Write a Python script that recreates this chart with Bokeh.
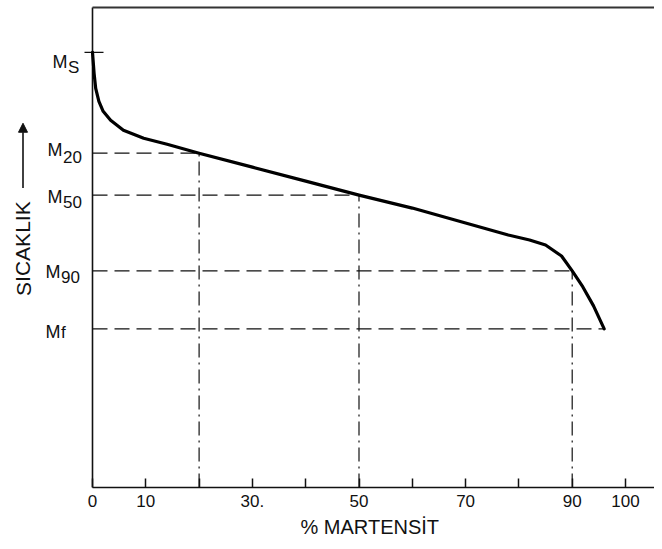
from bokeh.plotting import figure
from bokeh.models import (FixedTicker, Range1d, Arrow, NormalHead, LinearAxis,
                          Title, ColumnDataSource)
from bokeh.core.properties import value
from bokeh.embed import file_html
from bokeh.resources import INLINE

# ---------------- data ----------------
# % martensite formed vs temperature (arbitrary temperature units)
martensite_pct = [0, 0.3, 0.6, 1.2, 2, 3.4, 5.8, 9.6, 14, 20, 30, 40, 50,
                  60, 70, 78, 82, 85, 88, 90, 92, 94, 96]
temperature = [436, 415, 400, 387, 377, 368, 358, 350, 344, 335, 321, 307, 293,
               280, 265, 253, 248, 243, 232, 217, 201, 182, 159]

Ms = 436            # martensite start
level_pct = [20, 50, 90]
level_temp = [335, 293, 217]
Mf_pct = 96         # end of transformation
Mf = 159
T_top = 481         # top of the diagram

x_ticks = [0, 10, 20, 30, 40, 50, 60, 70, 80, 90, 100]
x_tick_labels = {0: "0", 10: "10", 20: "", 30: "30.", 40: "", 50: "50",
                 60: "", 70: "70", 80: "", 90: "90", 100: "100"}

y_label_main = ["M", "M", "M", "M", "M"]
y_label_sub = ["S", "20", "50", "90", "f"]
y_label_temp = [Ms] + level_temp + [Mf]

FONT = "Liberation Sans"
INK = "#111111"

# ---------------- figure ----------------
PX_PER_PCT = 5.33
AX_LEFT_PX = 92       # where 0 % sits, in pixels from the left
W, H = 654, 541
FRAME_H = 488


def xd(px):
    """pixel from the left -> % martensite"""
    return (px - AX_LEFT_PX) / PX_PER_PCT


def yd(py):
    """pixel from the top -> temperature units"""
    return FRAME_H - py


x_end = xd(W)
p = figure(width=W, height=H, output_backend="svg", toolbar_location=None,
           x_range=Range1d(xd(0), x_end), y_range=Range1d(0, FRAME_H),
           x_axis_location=None, y_axis_location=None,
           min_border_left=0, min_border_right=0, min_border_top=0,
           min_border_bottom=H - FRAME_H)
p.outline_line_color = None
p.grid.visible = False
p.background_fill_color = "white"
p.border_fill_color = "white"

# bottom axis (starts at 0 %)
xa = LinearAxis(ticker=FixedTicker(ticks=x_ticks),
                major_label_overrides=dict(x_tick_labels),
                bounds=(0, x_end))
xa.axis_line_width = 1.6
xa.axis_line_color = INK
xa.major_tick_in = 9
xa.major_tick_out = 0
xa.major_tick_line_width = 1.5
xa.major_tick_line_color = INK
xa.minor_tick_line_color = None
xa.major_label_text_font = FONT
xa.major_label_text_font_size = "17px"
xa.major_label_text_color = INK
xa.major_label_standoff = 7
p.add_layout(xa, "below")

p.add_layout(Title(text="% MARTENSİT", align="left", offset=300,
                   text_font=FONT, text_font_size="20px",
                   text_font_style="normal", text_color=INK, standoff=8),
             "below")

# left axis line, Ms tick and top border
p.segment(x0=[0], y0=[0], x1=[0], y1=[T_top], line_color=INK, line_width=1.6)
p.segment(x0=[xd(84)], y0=[Ms], x1=[xd(103)], y1=[Ms], line_color=INK,
          line_width=1.3)
p.segment(x0=[0], y0=[T_top], x1=[x_end], y1=[T_top], line_color="#333333",
          line_width=2)

# dashed guide lines
h_x1 = level_pct + [Mf_pct]
h_y = level_temp + [Mf]
p.segment(x0=[0] * len(h_x1), y0=h_y, x1=h_x1, y1=h_y,
          line_color=INK, line_width=1.2, line_dash="15 7")
p.segment(x0=level_pct, y0=[0] * len(level_pct), x1=level_pct, y1=level_temp,
          line_color=INK, line_width=1.2, line_dash="14 5 2 5")

# transformation curve
p.line(martensite_pct, temperature, line_color="black", line_width=3.2,
       line_join="round", line_cap="round")

# M labels with subscripts
main_right = [67, 62, 62, 60, 60]
main_dy = [-10, 3, -2, -1, -3]
sub_dy = [-15, -4, -7, -6, -4]
lab = ColumnDataSource(dict(
    xm=[xd(r) for r in main_right],
    ym=[t + d for t, d in zip(y_label_temp, main_dy)],
    xs=[xd(r + 0.5) for r in main_right],
    ys=[t + d for t, d in zip(y_label_temp, sub_dy)],
    main=y_label_main, sub=y_label_sub))
p.text(x="xm", y="ym", text="main", source=lab, text_align="right",
       text_baseline="alphabetic", text_font=value(FONT),
       text_font_size=value("18px"), text_color=INK)
p.text(x="xs", y="ys", text="sub", source=lab, text_align="left",
       text_baseline="alphabetic", text_font=value(FONT),
       text_font_size=value("17px"), text_color=INK)

# vertical axis title with arrow
p.text(x=[xd(22.5)], y=[yd(296)], text=["SICAKLIK"], angle=1.5708,
       text_align="left", text_baseline="middle", text_font=value(FONT),
       text_font_size=value("21px"), text_color=INK)
p.add_layout(Arrow(end=NormalHead(size=9, fill_color=INK, line_color=INK),
                   x_start=xd(22.5), y_start=yd(188),
                   x_end=xd(22.5), y_end=yd(123),
                   line_color=INK, line_width=1.6))

open("out.html", "w").write(file_html(p, INLINE))
